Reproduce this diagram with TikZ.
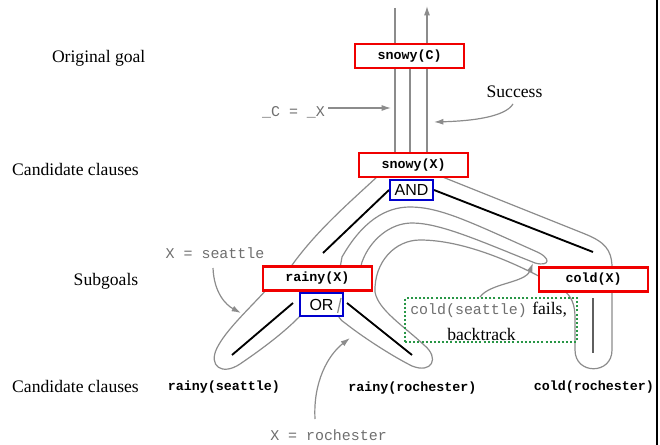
\documentclass[tikz,border=0pt]{standalone}
\usepackage{fontspec}
\setmainfont{Liberation Serif}
\newfontfamily\monof{Liberation Mono}
\newfontfamily\sansf{Liberation Sans}
\usetikzlibrary{arrows.meta}
\definecolor{lgray}{RGB}{140,140,140}
\definecolor{tgray}{RGB}{110,110,110}
\definecolor{dgreen}{RGB}{40,150,70}
\definecolor{bluebox}{RGB}{0,0,205}
\definecolor{redbox}{RGB}{240,0,0}
\begin{document}
\begin{tikzpicture}[x=0.75pt,y=-0.75pt,
  lab/.style={font=\fontsize{13.2}{15}\selectfont, anchor=base, inner sep=0},
  goal/.style={draw=redbox, line width=1.8pt, fill=white, minimum width=81.75pt, minimum height=18pt, inner sep=0, font=\monof\bfseries\fontsize{10}{12}\selectfont},
  conn/.style={draw=bluebox, line width=1.6pt, fill=white, minimum width=32.25pt, inner sep=0, font=\sansf\fontsize{12}{14}\selectfont},
  clause/.style={font=\monof\bfseries\fontsize{10}{12}\selectfont, anchor=base, inner sep=0},
  note/.style={font=\monof\fontsize{11.2}{13}\selectfont, text=tgray, anchor=base, inner sep=0},
  trail/.style={draw=lgray, line width=0.9pt},
  link/.style={draw=black, line width=1.4pt},
  pointer/.style={draw=lgray, line width=0.9pt, -{Latex[length=7pt,width=4.5pt]}},
]
\useasboundingbox (0,0) rectangle (660,445);

% vertical traces
\draw[trail] (395,8) -- (395,160);
\draw[trail] (410,60) -- (410,160);
\draw[pointer] (427,160) -- (427,6);

% outer left trace
\draw[trail] (378,176) .. controls (350,202) and (315,232) .. (290,268);
% seattle loop
\draw[trail] (268,288) .. controls (248,310) and (226,330) .. (217,348) .. controls (208,366) and (222,376) .. (240,364) .. controls (262,349) and (285,332) .. (302,314);
% hairpin (cold(seattle) fails)
\draw[trail] (340,268) -- (342,257) .. controls (362,222) and (385,207) .. (410,207) .. controls (440,207) and (470,222) .. (535,251) .. controls (552,258) and (550,267) .. (535,263) .. controls (480,241) and (440,223) .. (412,223) .. controls (390,223) and (370,240) .. (362,262) -- (360,270);
% rochester loop, cold loop, return to snowy(X)
\draw[trail] (338,310) .. controls (337,316) and (340,320) .. (345,323) .. controls (360,335) and (390,355) .. (412,366) .. controls (432,374) and (440,358) .. (424,345) .. controls (405,327) and (378,310) .. (375,292) .. controls (374,262) and (395,240) .. (420,240) .. controls (470,240) and (530,270) .. (562,289) .. controls (572,296) and (575,305) .. (575,318) -- (575,350) .. controls (575,375) and (612,375) .. (612,350) -- (612,265) .. controls (611,250) and (605,242) .. (585,234) -- (440,176);

% black links
\coordinate (al) at (323,253);
\coordinate (ar) at (593,252);
\coordinate (ol1) at (293,303);
\coordinate (ol2) at (232,355);
\coordinate (or1) at (347,303);
\coordinate (or2) at (412,355);
\draw[link] (389,190) -- (al);
\draw[link] (434,190) -- (ar);
\draw[link] (ol1) -- (ol2);
\draw[link] (or1) -- (or2);
\coordinate (c1) at (593,298);
\coordinate (c2) at (593,353);
\draw[draw={rgb,255:red,95;green,95;blue,95}, line width=1.3pt] (c1) -- (c2);

% boxes
\node[goal] (sc) at (409.5,56) {snowy(C)};
\node[goal] (sx) at (413.5,165) {snowy(X)};
\node[goal] (rx) at (317.5,278.5) {rainy(X)};
\node[goal] (cx) at (593.5,279.5) {cold(X)};
\node[conn, minimum height=15pt] (and) at (411.5,190) {AND};
\node[conn, minimum height=17pt] (or) at (321.5,304.5) {OR};
\draw[trail] (341,298) -- (337.6,313);

% green dotted box
\node[draw=dgreen, line width=1.5pt, dash pattern=on 1.5pt off 1.6pt, minimum width=129pt, minimum height=33pt, inner sep=0] (gb) at (491,320) {};

% pointer arrows
\draw[pointer] (328,108) -- (391,108);
\draw[pointer] (513,104) .. controls (505,117) and (472,121) .. (434,122);
\draw[pointer] (213,268) .. controls (214,293) and (226,305) .. (241,313);
\draw[pointer] (315,419) .. controls (313,382) and (328,355) .. (350,338);
\draw[pointer] (480,297) .. controls (490,283) and (525,283) .. (533,263);

% labels
\node[lab] (og) at (98.7,62.5) {Original goal};
\node[lab] (cc1) at (75.5,175.5) {Candidate clauses};
\node[lab] (sg) at (106,285.5) {Subgoals};
\node[lab] (cc2) at (75.5,392.5) {Candidate clauses};
\node[lab] (succ) at (514.5,98) {Success};
\node[note] (cxx) at (293.5,116.5) {\_C = \_X};
\node[note] (xs) at (215,259) {X = seattle};
\node[note] (xr) at (328.5,440.5) {X = rochester};
\node[note, anchor=base west] (cs) at (410,314) {cold(seattle)};
\node[lab, anchor=base west] (fails) at (532,315) {fails,};
\node[lab] (bt) at (481.5,340) {backtrack};

\node[clause] (rs) at (224,390) {rainy(seattle)};
\node[clause] (rr) at (412.5,391) {rainy(rochester)};
\node[clause] (cr) at (594,390) {cold(rochester)};

% right frame edge
\draw[line width=1.5pt] (656.5,0) -- (656.5,445);
\end{tikzpicture}
\end{document}
